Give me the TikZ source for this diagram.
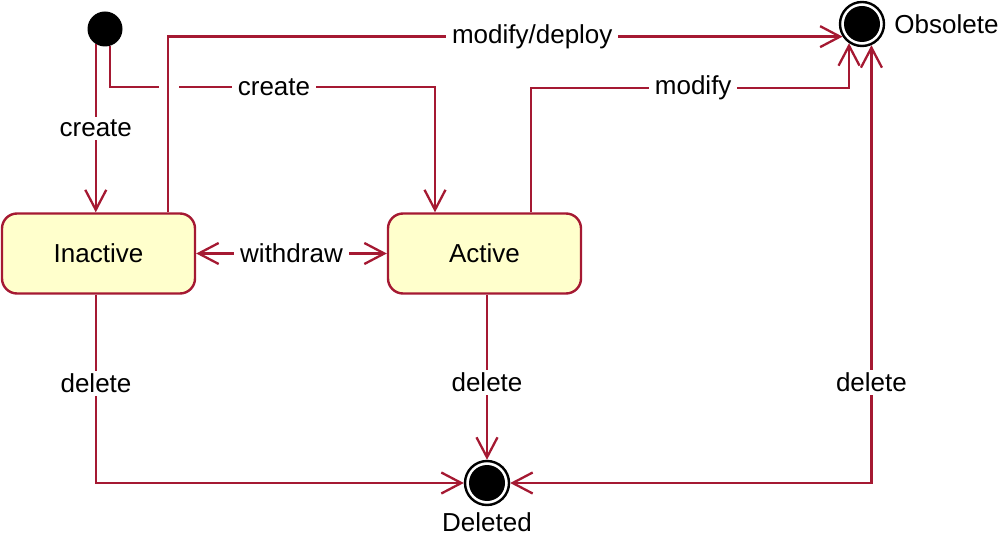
\documentclass[tikz,border=0pt]{standalone}
\usepackage{fontspec}
\setmainfont{Liberation Sans}
\usetikzlibrary{arrows.meta}
\definecolor{edgered}{RGB}{165,25,50}
\definecolor{statefill}{RGB}{255,255,204}
\begin{document}
\begin{tikzpicture}[x=0.5pt,y=-0.5pt,
  txt/.style={font=\fontsize{13}{15}\selectfont, text=black},
  state/.style={txt, draw=edgered, fill=statefill, line width=1.2pt, rounded corners=7.5pt,
    minimum width=96.5pt, minimum height=40pt, inner sep=0pt},
  initial/.style={circle, fill=black, minimum size=17.5pt, inner sep=0pt},
  final/.style={circle, draw=black, line width=1.2pt, fill=white, minimum size=22pt, inner sep=0pt,
    path picture={\fill[black] (path picture bounding box.center) circle[radius=9pt];}},
  tip/.tip={Straight Barb[length=10pt,width=10.5pt]},
  conn/.style={draw=edgered, line width=1.15pt, -tip},
  connboth/.style={draw=edgered, line width=1.15pt, tip-tip},
  lbl/.style={txt, fill=white, inner xsep=3pt, inner ysep=1.5pt},
  jump/.style={fill=white, minimum width=10pt, minimum height=4pt, inner sep=0pt}
]
\useasboundingbox (0,0) rectangle (1000,539);

% states
\node[initial] (start) at (105,29) {};
\node[state] (inact) at (98.5,253.5) {Inactive};
\node[state] (act) at (484.5,253.5) {Active};
\node[final] (obs) at (862,24) {};
\node[txt, anchor=west, inner sep=0pt] (obslbl) at (894,24) {Obsolete};
\node[final] (del) at (487,483) {};
\node[txt] (dellbl) at (487,522) {Deleted};

% bend coordinates
\coordinate (ca) at (435,87);
\coordinate (md) at (168,36);
\coordinate (ma) at (531,88);
\coordinate (dl) at (96,483);

% start -> Inactive
\draw[conn] (start.239) -- node[lbl]{create} (start.239 |- inact.north);
% start -> Active
\draw[conn] (start.287) |- (ca) -- (ca |- act.north);
\node[lbl] (createlbl) at (274,87) {create};
\node[jump] (gap) at (169,87) {};
% Inactive -> Obsolete
\draw[conn] (md |- inact.north) |- node[lbl, pos=0.77]{modify/deploy} (obs.213);
% Active -> Obsolete
\draw[conn] (ma |- act.north) -- (ma) -- node[lbl, pos=0.51]{modify} (obs.236 |- ma) -- (obs.236);
% withdraw
\draw[connboth] (inact.east) -- node[lbl]{withdraw} (act.west);
% Inactive -> Deleted
\draw[conn] (dl |- inact.south) -- node[lbl, pos=0.47]{delete} (dl) -- (del.west);
% Active -> Deleted
\draw[conn] (del.north |- act.south) -- node[lbl, pos=0.53]{delete} (del.north);
% Deleted <-> Obsolete
\draw[connboth] (del.east) -| node[lbl, pos=0.615]{delete} (obs.294);
\end{tikzpicture}
\end{document}
